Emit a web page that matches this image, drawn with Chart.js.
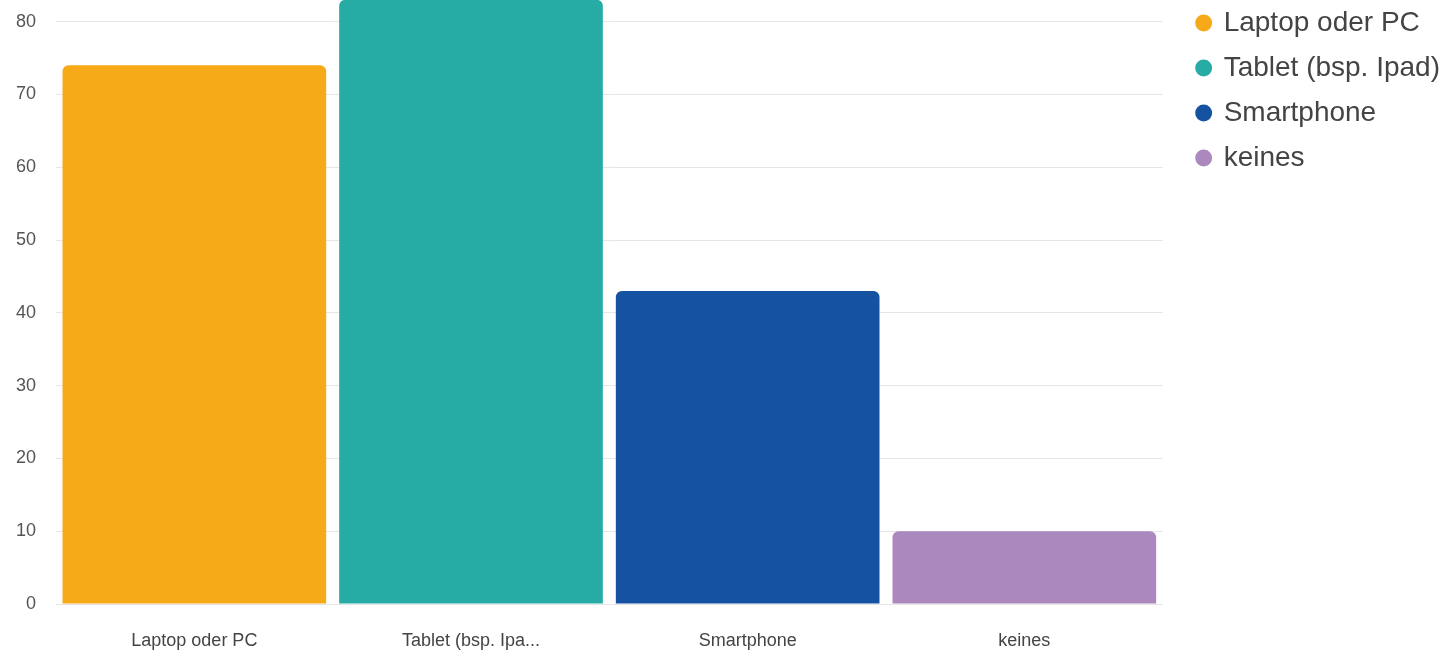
<!DOCTYPE html>
<html>
<head>
<meta charset="utf-8">
<script src="https://cdn.jsdelivr.net/npm/chart.js@4/dist/chart.umd.min.js"></script>
<style>
  html, body { margin: 0; padding: 0; background: #fff; overflow: hidden; }
  .frame { width: 1442px; height: 652px; position: relative; overflow: hidden; }
  .wrap { width: 1442px; height: 663px; position: absolute; left: 0; top: -11px; }
</style>
</head>
<body>
<div class="frame"><div class="wrap"><canvas id="chart"></canvas></div></div>
<script>
// data
const categories = ['Laptop oder PC', 'Tablet (bsp. Ipa...', 'Smartphone', 'keines']
const legendNames = ['Laptop oder PC', 'Tablet (bsp. Ipad)', 'Smartphone', 'keines']
const values = [74, 83, 43, 10]
const yTicks = [0, 10, 20, 30, 40, 50, 60, 70, 80]
const colors = ['#F7AA17', '#26ABA5', '#1652A2', '#AB89BF']

// leave a wider gap between plot and legend
const legendExtra = 10
const legendShiftX = 18
const legendShift = {
  id: 'legendShift',
  beforeLayout(chart) {
    const lg = chart.legend
    if (lg && !lg._patched) {
      const fit = lg.fit
      lg.fit = function () { fit.call(this); this.width += legendExtra }
      lg._patched = true
    }
  },
  afterLayout(chart) {
    if (chart.legend) chart.legend.left += legendShiftX
  }
}

const chart = new Chart(document.getElementById('chart'), {
  type: 'bar',
  data: {
    labels: categories,
    datasets: [{
      data: values,
      backgroundColor: colors,
      borderRadius: 6,
      borderSkipped: 'bottom',
      barPercentage: 0.953,
      categoryPercentage: 1
    }]
  },
  plugins: [legendShift],
  options: {
    responsive: true,
    maintainAspectRatio: false,
    animation: false,
    layout: { padding: { top: 3, left: 0, right: 0, bottom: 0 } },
    scales: {
      x: {
        afterFit: (axis) => { axis.height = 48 },
        grid: { display: false },
        border: { display: false },
        ticks: {
          color: '#444',
          font: { family: 'Liberation Sans, Arial, sans-serif', size: 18 },
          padding: 18,
          maxRotation: 0
        }
      },
      y: {
        min: 0,
        max: 83,
        afterBuildTicks: (axis) => {
          axis.ticks = yTicks.map(v => ({ value: v }))
        },
        afterFit: (axis) => { axis.width = 56 },
        grid: { color: '#e6e6e6', drawTicks: true, tickLength: 20, tickColor: 'rgba(0,0,0,0)' },
        border: { display: false },
        ticks: {
          color: '#555',
          font: { family: 'Liberation Sans, Arial, sans-serif', size: 18 },
          padding: 0
        }
      }
    },
    plugins: {
      tooltip: { enabled: false },
      legend: {
        position: 'right',
        align: 'start',
        labels: {
          usePointStyle: true,
          pointStyle: 'circle',
          boxWidth: 12,
          boxHeight: 12,
          padding: 17,
          color: '#444',
          font: { family: 'Liberation Sans, Arial, sans-serif', size: 28 },
          generateLabels: () => legendNames.map((name, i) => ({
            text: name,
            fillStyle: colors[i],
            strokeStyle: colors[i],
            fontColor: '#444',
            lineWidth: 0,
            pointStyle: 'circle',
            hidden: false,
            index: i
          }))
        }
      }
    }
  }
})
</script>
</body>
</html>
